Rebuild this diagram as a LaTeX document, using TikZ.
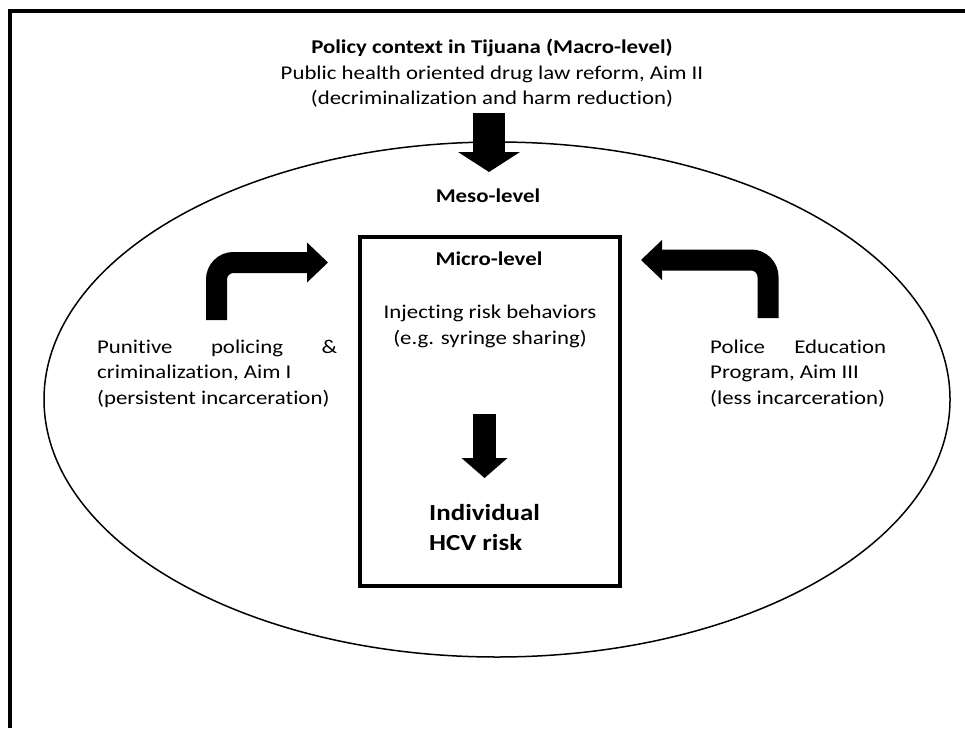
\documentclass[tikz,border=0pt]{standalone}
\usepackage{fontspec}
\setmainfont{Carlito}[FakeStretch=1.17, Ligatures={NoCommon}]
\usetikzlibrary{arrows.meta,shapes.geometric}
\begin{document}
\begin{tikzpicture}[x=1pt,y=-1pt,
  txt/.style={font=\fontsize{19.5}{25.5}\selectfont, inner sep=0pt},
  boldtxt/.style={font=\fontsize{19.5}{25.5}\selectfont\bfseries, inner sep=0pt},
  bigtxt/.style={font=\fontsize{23}{30}\selectfont\bfseries, inner sep=0pt},
  blockarrow/.style n args={3}{line width=#1,
    -{Triangle[length=#2, width=#3, line width=0pt]}},
  bentarrow/.style={blockarrow={21pt}{21pt}{40pt}, rounded corners=17pt}]
\useasboundingbox (0,0) rectangle (965,728);

% outer frame (top and left edges)
\draw[line width=4pt] (10,728) -- (10,11) -- (965,11);

% meso-level ellipse and micro-level box
\node[draw, ellipse, line width=1.5pt, minimum width=906pt, minimum height=515pt,
  inner sep=0pt] (meso) at (497,399.5) {};
\node[draw, line width=3.5pt, minimum width=260pt, minimum height=349pt,
  inner sep=0pt] (micro) at (490,411.5) {};

% texts (base anchor = baseline of the last line)
\node[txt, align=center, anchor=base] (macro) at (492,104.5)
  {\textbf{Policy context in Tijuana (Macro-level)}\\
   Public health oriented drug law reform, Aim II\\
   (decriminalization and harm reduction)};
\node[boldtxt, anchor=base] (mesolabel) at (488,202) {Meso-level};
\node[boldtxt, anchor=base] (microlabel) at (489,265) {Micro-level};
\node[txt, align=center, anchor=base] (behav) at (490,344)
  {Injecting risk behaviors\\(e.g. syringe sharing)};
\node[bigtxt, align=left, anchor=base west] (hcv) at (429,550)
  {Individual\\HCV risk};
\node[txt, align=left, anchor=base west] (punitive) at (97,404)
  {\hbox to 240pt{Punitive\hfill policing\hfill \&}\\
   criminalization, Aim I\\(persistent incarceration)};
\node[txt, align=left, anchor=base west] (police) at (710,404)
  {\hbox to 176pt{Police\hfill Education}\\
   Program, Aim III\\(less incarceration)};

% block arrows
\coordinate (topstart) at (489,113);
\coordinate (topend) at (489,172);
\draw[blockarrow={32pt}{20pt}{62pt}] (topstart) -- (topend);

\coordinate (instart) at (484.5,414);
\coordinate (inend) at (484.5,478);
\draw[blockarrow={23pt}{20pt}{46pt}] (instart) -- (inend);

\coordinate (leftstart) at (216.5,320);
\coordinate (leftend) at (328,262.5);
\draw[bentarrow] (leftstart) |- (leftend);

\coordinate (rightstart) at (768,318);
\coordinate (rightend) at (641,260);
\draw[bentarrow] (rightstart) |- (rightend);
\end{tikzpicture}
\end{document}
